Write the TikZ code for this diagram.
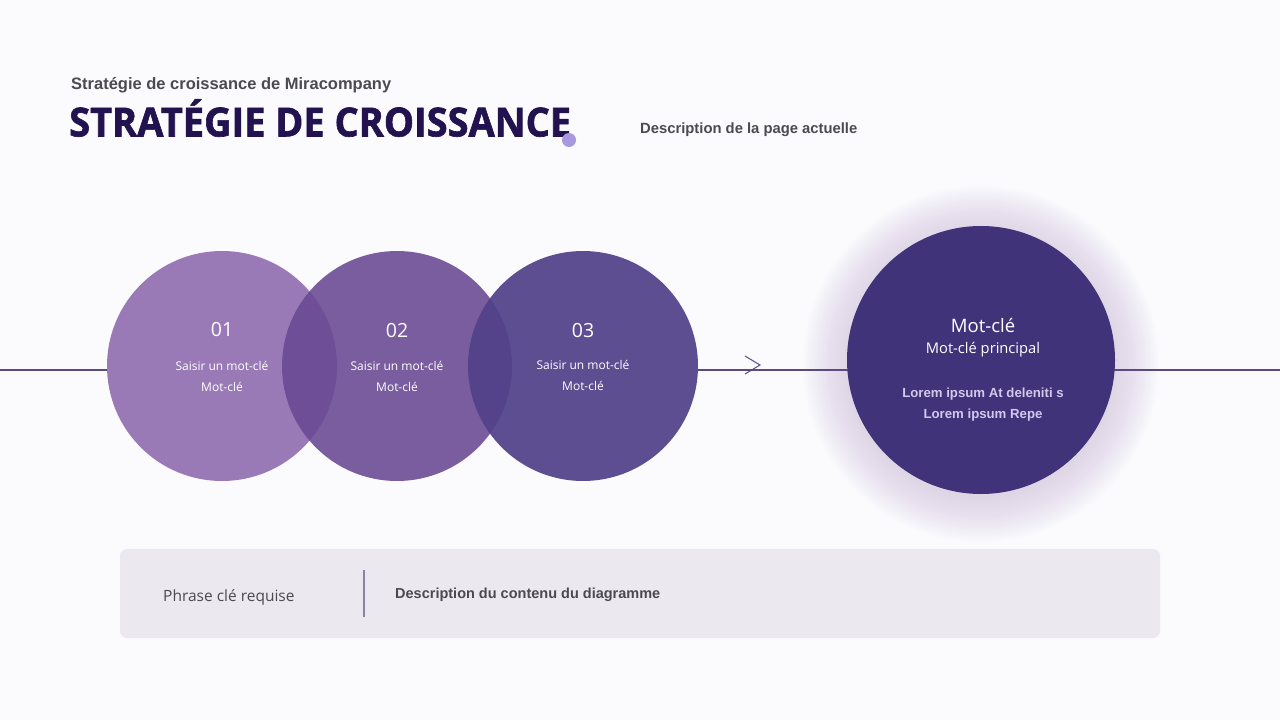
\documentclass[tikz,border=0pt]{standalone}
\usepackage{fontspec}
\usepackage{graphicx}
\setmainfont{Open Sans}
\newfontfamily\interfont{Liberation Sans}
\newfontfamily\titlefont{Open Sans}[BoldFeatures={FakeBold=1.6}]
\definecolor{bg}{HTML}{FBFAFC}
\definecolor{titleC}{HTML}{221350}
\definecolor{grayT}{HTML}{4A4A50}
\definecolor{dotC}{HTML}{A898DD}
\definecolor{lineC}{HTML}{5A4A80}
\definecolor{cA}{HTML}{9A7AB6}
\definecolor{cB}{HTML}{684893}
\definecolor{cC}{HTML}{524189}
\definecolor{cBig}{HTML}{41337A}
\definecolor{shadowC}{HTML}{7262B4}
\definecolor{lavT}{HTML}{D2C8EC}
\definecolor{boxC}{HTML}{EBE8F0}
\definecolor{divC}{HTML}{8A84A0}
\tikzset{
  circ/.style={circle, minimum size=230pt, inner sep=0pt},
  under/.style={circle, minimum size=230pt, inner sep=0pt, fill=bg},
  numtxt/.style={text=white, font=\fontsize{19.5}{24}\selectfont},
  smalltxt/.style={text=white, align=center, font=\fontsize{12}{21}\selectfont},
}
\begin{document}
\begin{tikzpicture}[x=1pt,y=-1pt]
\fill[bg] (0,0) rectangle (1280,720);
\useasboundingbox (0,0) rectangle (1280,720);

% header
\node[anchor=west, text=grayT, font=\interfont\bfseries\fontsize{16.5}{18}\selectfont, inner sep=0] (sub) at (71,85) {Stratégie de croissance de Miracompany};
\node[anchor=west, text=titleC, inner sep=0] (title) at (69,118) {\scalebox{0.95}[1]{\titlefont\bfseries\fontsize{40}{44}\selectfont STRATÉGIE DE CROISSANCE}};
\node[circle, fill=dotC, minimum size=14pt, inner sep=0] (dot) at (569,140) {};
\node[anchor=west, text=grayT, font=\interfont\bfseries\fontsize{14.8}{18}\selectfont, inner sep=0] (desc) at (640,130) {Description de la page actuelle};

% axis line
\coordinate (L0) at (0,370);
\coordinate (R0) at (1280,370);
\draw[lineC, line width=1.4pt] (L0) -- (R0);

% soft glow of big circle
\foreach \r in {178,176,...,134} {
  \fill[shadowC, fill opacity=0.008] (981,364) circle (\r);
}

% underlays hiding the line
\node[under] at (222,366) {};
\node[under] at (397,366) {};
\node[under] at (583,366) {};

% circles
\node[circ, fill=cA] (c1) at (222,366) {};
\node[circ, fill=cB, fill opacity=0.88] (c2) at (397,366) {};
\node[circ, fill=cC, fill opacity=0.93] (c3) at (583,366) {};
\node[circle, minimum size=268pt, inner sep=0, fill=cBig] (big) at (981,360) {};

% circle texts
\node[numtxt] (n1) at (222,330) {01};
\node[smalltxt] (t1) at (222,376) {Saisir un mot-clé\\Mot-clé};
\node[numtxt] (n2) at (397,331) {02};
\node[smalltxt] (t2) at (397,376) {Saisir un mot-clé\\Mot-clé};
\node[numtxt] (n3) at (583,331) {03};
\node[smalltxt] (t3) at (583,375) {Saisir un mot-clé\\Mot-clé};

\node[text=white, font=\fontsize{18.5}{24}\selectfont] (bt) at (983,326) {Mot-clé};
\node[text=white, font=\fontsize{14.7}{18}\selectfont] (bs) at (983,350) {Mot-clé principal};
\node[text=lavT, align=center, font=\interfont\bfseries\fontsize{13.2}{21}\selectfont] (bl) at (983,405) {Lorem ipsum At deleniti s\\Lorem ipsum Repe};

% chevron
\coordinate (chA) at (745,356);
\coordinate (chT) at (760,365);
\coordinate (chB) at (745,374);
\draw[lineC, line width=1pt] (chA) -- (chT) -- (chB);

% bottom box
\node[fill=boxC, rounded corners=7pt, minimum width=1040pt, minimum height=89pt, inner sep=0] (box) at (640,593.5) {};
\coordinate (dv1) at (364,570);
\coordinate (dv2) at (364,617);
\draw[divC, line width=1.4pt] (dv1) -- (dv2);
\node[anchor=west, text=grayT, font=\fontsize{15.5}{20}\selectfont, inner sep=0] (kp) at (163,597) {Phrase clé requise};
\node[anchor=west, text=grayT, font=\interfont\bfseries\fontsize{14.5}{18}\selectfont, inner sep=0] (dd) at (395,595) {Description du contenu du diagramme};
\end{tikzpicture}
\end{document}
